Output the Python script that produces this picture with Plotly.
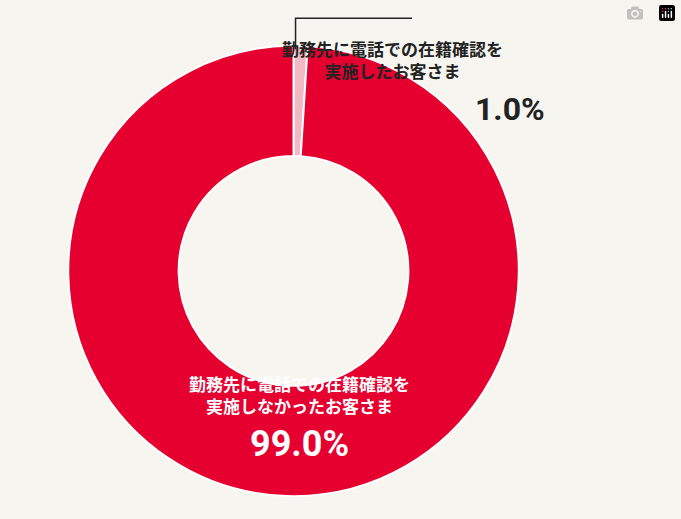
import plotly.graph_objects as go

labels = ["勤務先に電話での在籍確認を実施したお客さま", "勤務先に電話での在籍確認を実施しなかったお客さま"]
values = [1.0, 99.0]
colors = ["#f2b9c5", "#e50030"]

fig = go.Figure(go.Pie(
    labels=labels, values=values, hole=0.51, sort=False, direction="clockwise",
    rotation=0, textinfo="none", hoverinfo="label+percent",
    marker=dict(colors=colors, line=dict(color="white", width=2)),
    domain=dict(x=[0.1, 0.762], y=[0.044, 0.912]),
))

font = "Noto Sans CJK JP"
fig.add_annotation(x=0.742, y=0.934, xref="paper", yref="paper", showarrow=False,
                   text="<b>勤務先に電話での在籍確認を<br>実施したお客さま</b>",
                   font=dict(family=font, size=17, color="#222"), align="center")
fig.add_annotation(x=0.803, y=0.83, xref="paper", yref="paper", showarrow=False,
                   text="<b>1.0%</b>", font=dict(family="Roboto", size=32, color="#222"))
fig.add_annotation(x=0.44, y=0.19, xref="paper", yref="paper", showarrow=False,
                   text="<b>勤務先に電話での在籍確認を<br>実施しなかったお客さま</b>",
                   font=dict(family=font, size=17, color="white"), align="center")
fig.add_annotation(x=0.44, y=0.1, xref="paper", yref="paper", showarrow=False,
                   text="<b>99.0%</b>", font=dict(family="Roboto", size=36, color="white"))

fig.add_shape(type="path", xref="paper", yref="paper",
              path="M 0.434 0.905 L 0.434 0.965 L 0.605 0.965",
              line=dict(color="#222", width=1.5))

fig.update_layout(
    width=681, height=519, showlegend=False,
    paper_bgcolor="#f6f5f0", plot_bgcolor="#f6f5f0",
    margin=dict(l=0, r=0, t=0, b=0),
)
fig.write_html("out.html", post_script="document.body.style.margin='0';")
